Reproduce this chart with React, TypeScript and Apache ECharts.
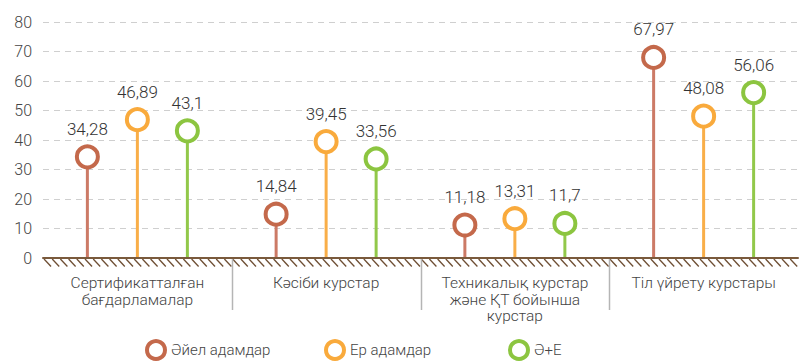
import React, { useEffect, useRef } from "react";
import * as echarts from "echarts";

const categories = [
  "Сертификатталған\nбағдарламалар",
  "Кәсіби курстар",
  "Техникалық курстар\nжәне ҚТ бойынша\nкурстар",
  "Тіл үйрету курстары",
];
const seriesNames = ["Әйел адамдар", "Ер адамдар", "Ә+Е"];
const women = [34.28, 14.84, 11.18, 67.97];
const men = [46.89, 39.45, 13.31, 48.08];
const total = [43.1, 33.56, 11.7, 56.06];
const colors = ["#C4694B", "#F9AA3C", "#8CC540"];
const stemColors = ["#CC7A66", "#F9AE48", "#92C84A"];
const yTicks = { min: 0, max: 80, interval: 10 };

const W = 810;
const H = 363;
const GRID = { left: 43, right: 12, top: 22, bottom: 105 };

export default function App() {
  const ref = useRef<HTMLDivElement>(null);
  useEffect(() => {
    if (!ref.current) return;
    const chart = echarts.init(ref.current, undefined, { renderer: "svg" });
    const values = [women, men, total];
    const offsets = [-50, 0, 50];
    const font = "Roboto, 'Noto Sans', sans-serif";
    const fw = 300;

    const bars = values.map((v, i) => ({
      type: "bar",
      name: "stem" + i,
      data: v,
      barWidth: 3,
      barGap: "1566.67%",
      itemStyle: { color: stemColors[i] },
      z: 2,
      silent: true,
    }));
    const dots = values.map((v, i) => ({
      type: "scatter",
      name: seriesNames[i],
      data: v,
      symbol: "circle",
      symbolSize: 21,
      symbolOffset: [offsets[i], 0],
      itemStyle: { color: "#fff", borderColor: colors[i], borderWidth: 4, opacity: 1 },
      z: 5,
      label: {
        show: true,
        position: "top",
        distance: 7,
        color: "#333",
        fontSize: 17,
        fontWeight: fw,
        fontFamily: font,
        formatter: (p: any) => String(p.value).replace(".", ","),
      },
    }));

    const left = GRID.left;
    const right = W - GRID.right;
    const axisY = H - GRID.bottom;
    const hatch: any[] = [];
    for (let x = left + 1; x < right - 4; x += 8.2) {
      hatch.push({
        type: "line",
        shape: { x1: x, y1: axisY + 1, x2: x + 7, y2: axisY + 8.5 },
        style: { stroke: "#6E4E33", lineWidth: 1.3 },
        silent: true,
      });
    }
    const bandW = (right - left) / categories.length;
    const seps: any[] = [];
    for (let i = 1; i < categories.length; i++) {
      const x = Math.round(left + bandW * i) + 0.5;
      seps.push({
        type: "line",
        shape: { x1: x, y1: axisY, x2: x, y2: axisY + 52 },
        style: { stroke: "#B5B5B5", lineWidth: 1.5 },
        silent: true,
      });
    }

    const legendLefts = [145, 324, 508];
    const legends = seriesNames.map((n, i) => ({
      data: [
        {
          name: n,
          icon: "circle",
          itemStyle: { color: "#fff", borderColor: colors[i], borderWidth: 4 },
        },
      ],
      left: legendLefts[i],
      top: 339,
      padding: 0,
      itemWidth: 18,
      itemHeight: 18,
      itemGap: 10,
      textStyle: { color: "#444", fontSize: 15, fontWeight: fw, fontFamily: font, padding: [0, 0, 0, 1] },
      selectedMode: false,
    }));

    chart.setOption({
      animation: false,
      textStyle: { fontFamily: font },
      grid: GRID,
      legend: legends,
      xAxis: {
        type: "category",
        data: categories,
        axisLine: { show: true, lineStyle: { color: "#7A5A3C", width: 2 } },
        axisTick: { show: false },
        axisLabel: {
          color: "#444",
          fontSize: 15.5,
          fontWeight: fw,
          lineHeight: 16.5,
          margin: 17,
          interval: 0,
          fontFamily: font,
        },
        z: 10,
      },
      yAxis: {
        type: "value",
        min: yTicks.min,
        max: yTicks.max,
        interval: yTicks.interval,
        axisLine: { show: false },
        axisTick: { show: false },
        axisLabel: { color: "#444", fontSize: 16, fontWeight: fw, margin: 11, fontFamily: font },
        splitLine: { lineStyle: { color: "#CFCFCF", type: [6, 5], width: 1 } },
      },
      series: [...bars, ...dots],
      graphic: [...hatch, ...seps],
    });
    return () => chart.dispose();
  }, []);
  return (
    <div
      ref={ref}
      style={{ position: "fixed", left: 0, top: 0, width: W, height: H, background: "#fff" }}
    />
  );
}
